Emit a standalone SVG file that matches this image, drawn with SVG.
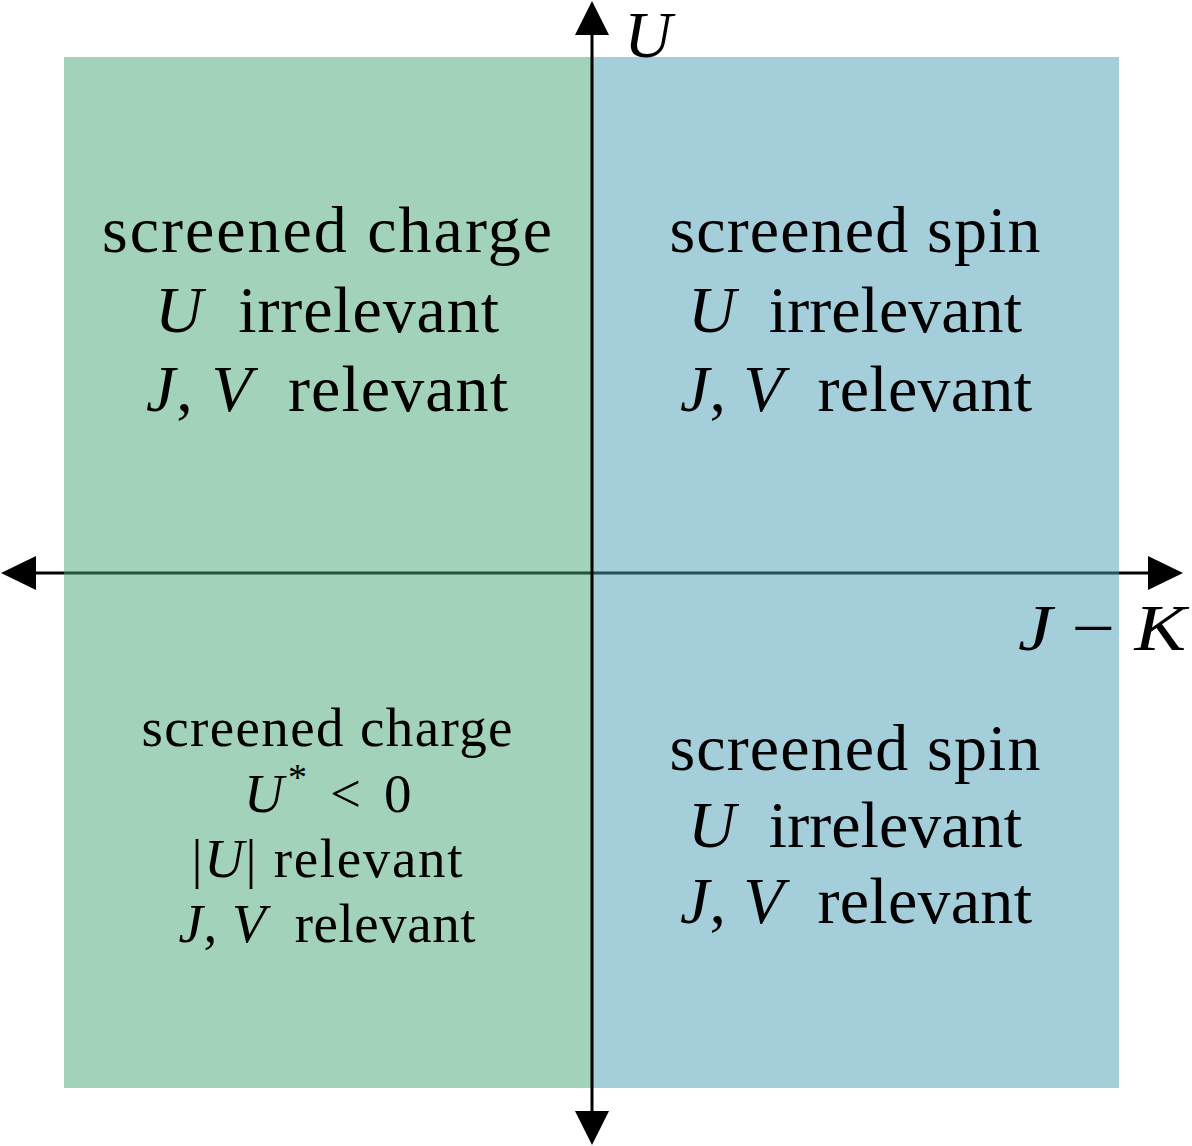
<svg xmlns="http://www.w3.org/2000/svg" width="1192" height="1146" viewBox="0 0 1192 1146">
<style>
.t{font-family:"Liberation Serif","DejaVu Serif",serif;fill:#000;text-anchor:middle}
.big{font-size:66px}
.small{font-size:55px}
.m{font-style:italic}
.ax{stroke:#000;stroke-width:3;fill:none}
.ah{fill:#000}
</style>
<rect width="1192" height="1146" fill="#fff"/>
<g id="connectors">
<line class="ax" x1="30" y1="573" x2="1152" y2="573"/>
<polygon class="ah" points="1,573 36,556 36,590"/>
<polygon class="ah" points="1183,573 1148,556 1148,590"/>
</g>
<g id="region-charge">
<rect x="64" y="57" width="528" height="1031" fill="#47a577" fill-opacity="0.5"/>
</g>
<g id="region-spin">
<rect x="592" y="57" width="527" height="1031" fill="#4b9db7" fill-opacity="0.5"/>
</g>
<g id="axis-U">
<line class="ax" x1="592" y1="30" x2="592" y2="1116"/>
<polygon class="ah" points="592,1,575,35,609,35"/>
<polygon class="ah" points="592,1145,575,1111,609,1111"/>
<text class="t big m" x="648" y="57">U</text>
</g>
<g id="axis-JK">
<text class="t big" x="1102" y="650" textLength="168" lengthAdjust="spacingAndGlyphs"><tspan class="m">J</tspan> − <tspan class="m">K</tspan></text>
</g>
<g id="q-top-left">
<text class="t big" x="327" y="252" textLength="450">screened charge</text>
<text class="t big" x="327" y="332" textLength="344" xml:space="preserve"><tspan class="m">U</tspan>  irrelevant</text>
<text class="t big" x="327" y="411" textLength="362" xml:space="preserve"><tspan class="m">J</tspan>, <tspan class="m">V</tspan>  relevant</text>
</g>
<g id="q-top-right">
<text class="t big" x="855" y="252" textLength="371">screened spin</text>
<text class="t big" x="855" y="332" textLength="334" xml:space="preserve"><tspan class="m">U</tspan>  irrelevant</text>
<text class="t big" x="856" y="411" textLength="352" xml:space="preserve"><tspan class="m">J</tspan>, <tspan class="m">V</tspan>  relevant</text>
</g>
<g id="q-bottom-left">
<text class="t small" x="327" y="746" textLength="371">screened charge</text>
<text class="t small" y="812" style="text-anchor:start"><tspan class="m" x="244">U</tspan><tspan x="288" dy="-22" font-size="38">*</tspan><tspan x="330" dy="22">&lt;</tspan><tspan x="384">0</tspan></text>
<text class="t small" x="327" y="877" textLength="271">|<tspan class="m">U</tspan>| relevant</text>
<text class="t small" x="327" y="942" textLength="297" xml:space="preserve"><tspan class="m">J</tspan>, <tspan class="m">V</tspan>  relevant</text>
</g>
<g id="q-bottom-right">
<text class="t big" x="855" y="770" textLength="371">screened spin</text>
<text class="t big" x="855" y="847" textLength="334" xml:space="preserve"><tspan class="m">U</tspan>  irrelevant</text>
<text class="t big" x="856" y="923" textLength="352" xml:space="preserve"><tspan class="m">J</tspan>, <tspan class="m">V</tspan>  relevant</text>
</g>
</svg>
